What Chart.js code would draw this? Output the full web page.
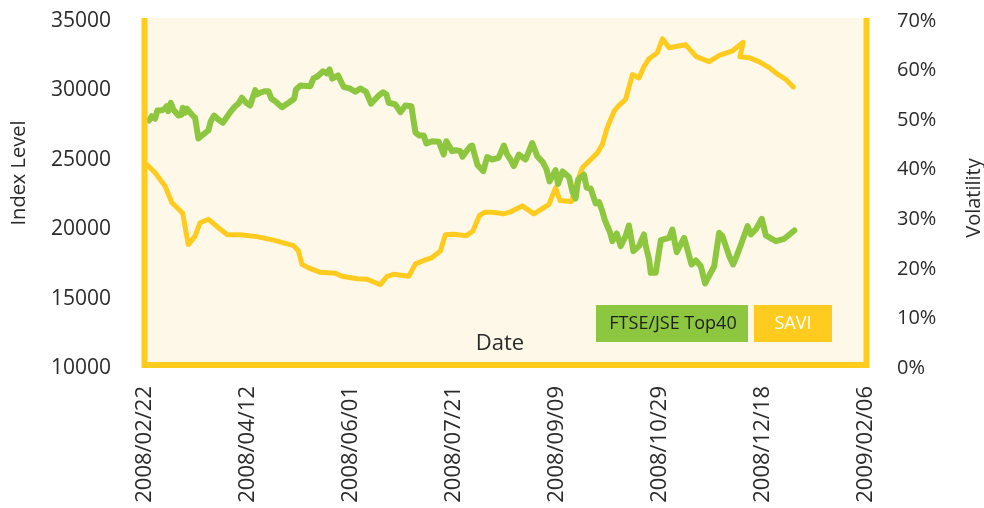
<!DOCTYPE html>
<html>
<head>
<meta charset="utf-8">
<script src="https://cdn.jsdelivr.net/npm/chart.js@4.4.1/dist/chart.umd.min.js"></script>
<style>
    html, body { margin: 0; padding: 0; background: #ffffff; }
</style>
</head>
<body>
<canvas id="myChart" width="984" height="508"></canvas>
<script>
// x values are days counted from 2008/02/22
const dateLabels = ['2008/02/22', '2008/04/12', '2008/06/01', '2008/07/21',
    '2008/09/09', '2008/10/29', '2008/12/18', '2009/02/06'];

const ftseDays = [1.9, 3.3, 4.9, 6.0, 8.1, 9.7, 10.5, 11.3, 12.5, 13.8, 16.2, 17.8, 18.3, 19.4, 20.3,
    22.7, 24.3, 25.9, 30.8, 31.9, 33.5, 35.6, 37.8, 40.0, 41.7, 43.8, 45.4, 47.0, 49.1, 51.0,
    53.5, 54.3, 55.9, 58.0, 59.9, 61.3, 63.2, 66.5, 69.7, 72.4, 73.3, 75.4, 80.2, 81.8, 83.8,
    86.4, 88.3, 89.6, 90.9, 93.7, 96.4, 99.7, 102.1, 104.5, 107.3, 109.7, 113.1, 115.6, 117.2,
    118.3, 121.5, 124.0, 126.4, 129.3, 131.3, 133.2, 135.3, 136.6, 139.4, 142.6, 145.0, 146.3,
    149.1, 151.0, 153.1, 154.1, 156.4, 158.0, 158.8, 161.4, 164.2, 166.1, 168.5, 171.6, 174.2,
    175.8, 177.4, 179.0, 181.5, 184.7, 188.0, 190.4, 193.1, 194.9, 196.4, 199.3, 200.5, 202.7,
    205.8, 207.6, 209.0, 210.3, 213.1, 214.4, 216.3, 218.8, 220.4, 222.0, 223.1, 225.7, 226.9,
    229.0, 230.9, 233.3, 234.9, 237.1, 239.8, 242.2, 243.1, 244.7, 245.5, 247.9, 250.4, 254.4,
    256.0, 258.1, 261.7, 263.3, 265.3, 267.4, 269.8, 271.9, 276.3, 278.7, 280.3, 283.6, 285.5,
    287.2, 289.7, 292.5, 294.1, 296.5, 299.4, 301.4, 304.3, 306.3, 310.3, 315.2];
const ftseValues = [27830, 28140, 27960, 28550, 28570, 28680, 28860, 28500, 29110, 28620, 28190,
    28260, 28750, 28390, 28680, 28260, 28030, 26540, 27130, 27780, 28190, 27900, 27670, 28140,
    28500, 28860, 29060, 29470, 29110, 28910, 30020, 29710, 29830, 29940, 29940, 29420, 29220,
    28790, 29110, 29400, 30070, 30350, 30300, 30860, 31020, 31380, 31220, 31510, 30840, 31080,
    30260, 30120, 29900, 30140, 29900, 29040, 29580, 29870, 29710, 29110, 28990, 28430, 28910,
    28860, 26950, 26750, 26750, 26180, 26340, 26300, 25380, 26340, 25620, 25690, 25620, 25220,
    25690, 25980, 26030, 24630, 24180, 25200, 25020, 25140, 26030, 25380, 25020, 24540, 25380,
    25020, 26210, 25260, 24830, 24300, 23440, 24250, 23260, 24160, 23760, 22640, 22210, 23580,
    23920, 23000, 22930, 21850, 21950, 21300, 20700, 19780, 19140, 19690, 18780, 19500, 20270,
    18420, 18780, 19620, 18780, 17820, 16860, 16860, 19210, 19380, 19980, 18340, 19380, 18540,
    17460, 17750, 17330, 16090, 17330, 19740, 19500, 18060, 17460, 18060, 19060, 20220, 19620,
    19980, 20750, 19550, 19310, 19140, 19310, 19910];

const saviDays = [0.8, 4.9, 9.7, 13.0, 18.3, 21.0, 24.3, 26.7, 30.8, 35.6, 40.0, 46.2, 54.3, 62.4,
    72.1, 74.5, 76.2, 79.4, 85.1, 92.4, 95.6, 102.9, 107.8, 114.2, 117.5, 120.7, 128.0, 131.3,
    135.3, 139.0, 143.4, 145.8, 149.9, 156.0, 159.1, 162.4, 164.8, 168.7, 174.0, 177.4, 183.1,
    188.8, 196.1, 199.3, 201.4, 207.1, 209.9, 212.3, 215.5, 219.6, 222.0, 224.4, 227.7, 230.1,
    233.3, 236.6, 239.8, 242.2, 244.7, 248.7, 251.2, 254.4, 262.5, 267.6, 273.8, 279.0, 284.9,
    290.4, 288.8, 293.3, 298.0, 303.0, 306.3, 311.1, 314.7];
const saviValues = [41.1, 39.4, 36.7, 33.4, 31.2, 24.9, 26.6, 29.3, 30.0, 28.3, 26.9, 26.9, 26.5,
    25.8, 24.7, 23.6, 20.9, 20.2, 19.3, 19.1, 18.5, 18.0, 17.9, 16.8, 18.5, 18.9, 18.5, 21.0,
    21.7, 22.2, 23.6, 26.9, 27.0, 26.7, 27.6, 30.8, 31.4, 31.4, 31.1, 31.5, 32.7, 31.1, 33.0,
    36.4, 33.8, 33.6, 37.7, 40.4, 41.7, 43.4, 45.1, 48.5, 51.8, 53.0, 54.2, 59.2, 58.5, 60.8,
    62.4, 63.6, 66.4, 64.6, 65.2, 62.8, 61.8, 63.1, 63.9, 65.7, 62.8, 62.6, 61.8, 60.6, 59.5,
    58.2, 56.7];

const green = '#8DC63F';
const yellow = '#FFCB1F';
const textColor = '#2b2b2b';
const fontFamily = '"Open Sans", "DejaVu Sans", sans-serif';

const ftsePoints = ftseDays.map((d, i) => ({x: d, y: ftseValues[i]}));
const saviPoints = saviDays.map((d, i) => ({x: d, y: saviValues[i]}));

// cream plot area, yellow frame, legend boxes and titles
const plotFrame = {
    id: 'plotFrame',
    beforeDatasetsDraw(chart) {
        const {ctx, chartArea: a} = chart;
        ctx.save();
        ctx.fillStyle = '#FEF8E9';
        ctx.fillRect(a.left, a.top - 3, a.right - a.left, a.bottom - a.top + 3);
        ctx.restore();
    },
    afterDatasetsDraw(chart) {
        const {ctx, chartArea: a} = chart;
        ctx.save();
        ctx.strokeStyle = yellow;
        ctx.lineWidth = 6;
        ctx.lineJoin = 'miter';
        ctx.beginPath();
        ctx.moveTo(a.left - 0.5, a.top - 3);
        ctx.lineTo(a.left - 0.5, a.bottom - 3);
        ctx.lineTo(a.right + 0.5, a.bottom - 3);
        ctx.lineTo(a.right + 0.5, a.top - 3);
        ctx.stroke();

        // legend
        ctx.fillStyle = green;
        ctx.fillRect(596, 305, 152, 37);
        ctx.fillStyle = yellow;
        ctx.fillRect(754, 305, 78, 37);
        ctx.font = '18px ' + fontFamily;
        ctx.textBaseline = 'middle';
        ctx.textAlign = 'center';
        ctx.fillStyle = '#1e1e1e';
        ctx.fillText('FTSE/JSE Top40', 673, 324);
        ctx.fillStyle = '#ffffff';
        ctx.fillText('SAVI', 793, 324);

        // x axis title sits inside the plot
        ctx.fillStyle = textColor;
        ctx.font = '22px ' + fontFamily;
        ctx.fillText('Date', 500, 344);

        // y axis titles
        ctx.font = '20px ' + fontFamily;
        ctx.translate(19, 173);
        ctx.rotate(-Math.PI / 2);
        ctx.fillText('Index Level', 0, 0);
        ctx.setTransform(1, 0, 0, 1, 0, 0);
        ctx.translate(974, 198);
        ctx.rotate(-Math.PI / 2);
        ctx.fillText('Volatility', 0, 0);
        ctx.restore();
    }
};

function fixWidth(w) {
    return (scale) => {
        scale.width = w;
        scale.paddingTop = 0;
        scale.paddingBottom = 0;
    };
}

const ctx = document.getElementById('myChart');
new Chart(ctx, {
    type: 'line',
    data: {
        datasets: [{
            label: 'FTSE/JSE Top40',
            data: ftsePoints,
            yAxisID: 'y',
            borderColor: green,
            borderWidth: 6,
            pointRadius: 0,
            borderJoinStyle: 'round',
            borderCapStyle: 'round'
        }, {
            label: 'SAVI',
            data: saviPoints,
            yAxisID: 'y1',
            borderColor: yellow,
            borderWidth: 5,
            pointRadius: 0,
            borderJoinStyle: 'round',
            borderCapStyle: 'round'
        }]
    },
    options: {
        responsive: false,
        animation: false,
        layout: {padding: {top: 21, left: 0, right: 0, bottom: 0}},
        plugins: {
            legend: {display: false},
            tooltip: {enabled: false}
        },
        scales: {
            x: {
                type: 'linear',
                min: 0,
                max: 350,
                grid: {display: false},
                border: {display: false},
                afterFit: (scale) => { scale.height = 140; },
                ticks: {
                    stepSize: 50,
                    autoSkip: false,
                    minRotation: 90,
                    maxRotation: 90,
                    padding: 10,
                    color: textColor,
                    font: {family: fontFamily, size: 22},
                    callback: (v) => dateLabels[Math.round(v / 50)]
                }
            },
            y: {
                position: 'left',
                min: 10000,
                max: 35000,
                grid: {display: false},
                border: {display: false},
                afterFit: fixWidth(145),
                ticks: {
                    stepSize: 5000,
                    padding: 26,
                    color: textColor,
                    font: {family: fontFamily, size: 21},
                    callback: (v) => String(v)
                }
            },
            y1: {
                position: 'right',
                min: 0,
                max: 70,
                grid: {display: false},
                border: {display: false},
                afterFit: fixWidth(118),
                ticks: {
                    stepSize: 10,
                    padding: 23,
                    color: textColor,
                    font: {family: fontFamily, size: 20},
                    callback: (v) => v + '%'
                }
            }
        }
    },
    plugins: [plotFrame]
});
</script>
</body>
</html>
